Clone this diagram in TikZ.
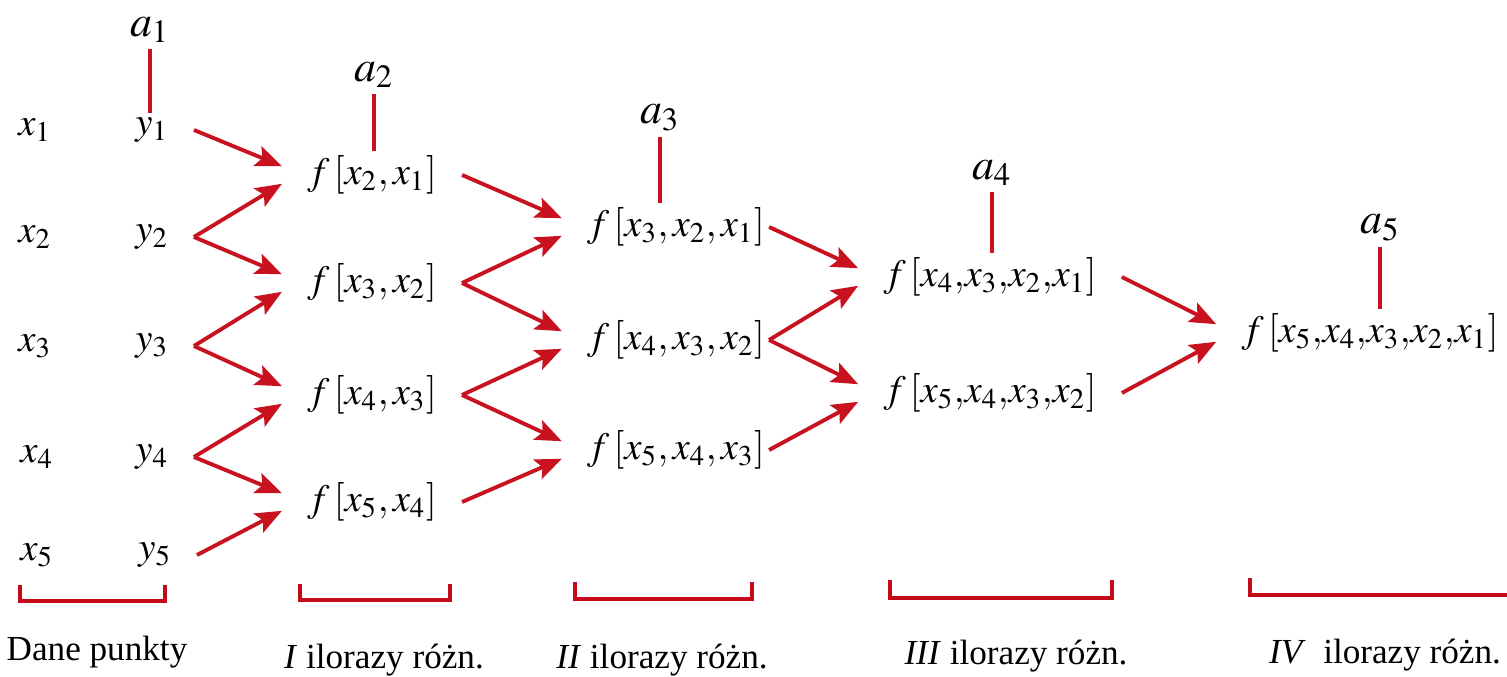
\documentclass[tikz,border=0pt]{standalone}
\usepackage{mathptmx}
\usepackage[no-math]{fontspec}
\setmainfont{Liberation Serif}
\usepackage{xcolor}
\usepackage{tikz}
\usetikzlibrary{arrows.meta}
\definecolor{divred}{RGB}{200,18,32}
\definecolor{brkred}{RGB}{196,10,24}

\begin{document}
\begin{tikzpicture}[x=0.01cm, y=-0.01cm,
    dd/.style={inner xsep=7pt, inner ysep=1pt, font=\fontsize{11}{14}\selectfont},
    coef/.style={inner sep=1.5pt, font=\fontsize{12.5}{15}\selectfont},
    arr/.style={-{Stealth[length=7.5pt, width=6pt, inset=1.5pt]}, line width=1.1pt, divred},
    tick/.style={line width=1.1pt, divred},
    brk/.style={line width=1.2pt, brkred},
    lbl/.style={font=\rmfamily\fontsize{10}{12}\selectfont}
]
\useasboundingbox (0,0) rectangle (1507,677);

\node[dd] (x1) at (35,130) {$x_1$};
\node[dd] (x2) at (35,237) {$x_2$};
\node[dd] (x3) at (35,346) {$x_3$};
\node[dd] (x4) at (37,457) {$x_4$};
\node[dd] (x5) at (37,555) {$x_5$};
\node[dd] (y1) at (152,130) {$y_1$};
\node[dd] (y2) at (152,237) {$y_2$};
\node[dd] (y3) at (152,346) {$y_3$};
\node[dd] (y4) at (152,457) {$y_4$};
\node[dd] (y5) at (155,555) {$y_5$};

\node[dd] (f21) at (372,175) {$f\,[x_2, x_1]$};
\node[dd] (f32) at (372,283) {$f\,[x_3, x_2]$};
\node[dd] (f43) at (372,395) {$f\,[x_4, x_3]$};
\node[dd] (f54) at (372,502) {$f\,[x_5, x_4]$};

\node[dd] (f321) at (676,227) {$f\,[x_3, x_2, x_1]$};
\node[dd] (f432) at (676,340) {$f\,[x_4, x_3, x_2]$};
\node[dd] (f543) at (676,450) {$f\,[x_5, x_4, x_3]$};

\node[dd] (f4321) at (990,277) {$f\,[x_4,\! x_3,\! x_2,\! x_1]$};
\node[dd] (f5432) at (990,393) {$f\,[x_5,\! x_4,\! x_3,\! x_2]$};

\node[dd] (f54321) at (1370,333) {$f\,[x_5,\! x_4,\! x_3,\! x_2,\! x_1]$};

\node[coef] (a1) at (150,30) {$a_1$};
\node[coef] (a2) at (374,75) {$a_2$};
\node[coef] (a3) at (660,118) {$a_3$};
\node[coef] (a4) at (992,173) {$a_4$};
\node[coef] (a5) at (1380,228) {$a_5$};

\draw[tick] (a1.south) -- (a1.south |- y1.north);
\draw[tick] (a2.south) -- (a2.south |- f21.north);
\draw[tick] (a3.south) -- (a3.south |- f321.north);
\draw[tick] (a4.south) -- (a4.south |- f4321.north);
\draw[tick] (a5.south) -- (a5.south |- f54321.north);

\draw[arr] (y1.east) -- ([yshift=2.5pt]f21.west);
\draw[arr] (y2.east) -- ([yshift=-2.5pt]f21.west);
\draw[arr] (y2.east) -- ([yshift=2.5pt]f32.west);
\draw[arr] (y3.east) -- ([yshift=-2.5pt]f32.west);
\draw[arr] (y3.east) -- ([yshift=2.5pt]f43.west);
\draw[arr] (y4.east) -- ([yshift=-2.5pt]f43.west);
\draw[arr] (y4.east) -- ([yshift=2.5pt]f54.west);
\draw[arr] (y5.east) -- ([yshift=-2.5pt]f54.west);

\draw[arr] (f21.east) -- ([yshift=2.5pt]f321.west);
\draw[arr] (f32.east) -- ([yshift=-2.5pt]f321.west);
\draw[arr] (f32.east) -- ([yshift=2.5pt]f432.west);
\draw[arr] (f43.east) -- ([yshift=-2.5pt]f432.west);
\draw[arr] (f43.east) -- ([yshift=2.5pt]f543.west);
\draw[arr] (f54.east) -- ([yshift=-2.5pt]f543.west);

\draw[arr] ([xshift=-6pt]f321.east) -- ([yshift=2.5pt]f4321.west);
\draw[arr] ([xshift=-6pt]f432.east) -- ([yshift=-2.5pt]f4321.west);
\draw[arr] ([xshift=-6pt]f432.east) -- ([yshift=2.5pt]f5432.west);
\draw[arr] ([xshift=-6pt]f543.east) -- ([yshift=-2.5pt]f5432.west);

\draw[arr] (f4321.east) -- ([yshift=2.5pt]f54321.west);
\draw[arr] (f5432.east) -- ([yshift=-2.5pt]f54321.west);

\draw[brk] (20,585) |- (165,601) -- (165,585);
\draw[brk] (300,584) |- (450,600) -- (450,584);
\draw[brk] (575,582) |- (752,599) -- (752,582);
\draw[brk] (890,580) |- (1112,598) -- (1112,580);
\draw[brk] (1250,578) |- (1507,595);

\node[lbl] (l0) at (97,652) {Dane punkty};
\node[lbl] (l1) at (384,660) {\textit{I} ilorazy różn.};
\node[lbl] (l2) at (662,660) {\textit{II} ilorazy różn.};
\node[lbl] (l3) at (1016,656) {\textit{III} ilorazy różn.};
\node[lbl] (l4) at (1385,655) {\textit{IV}\ \ ilorazy różn.};
\end{tikzpicture}
\end{document}
